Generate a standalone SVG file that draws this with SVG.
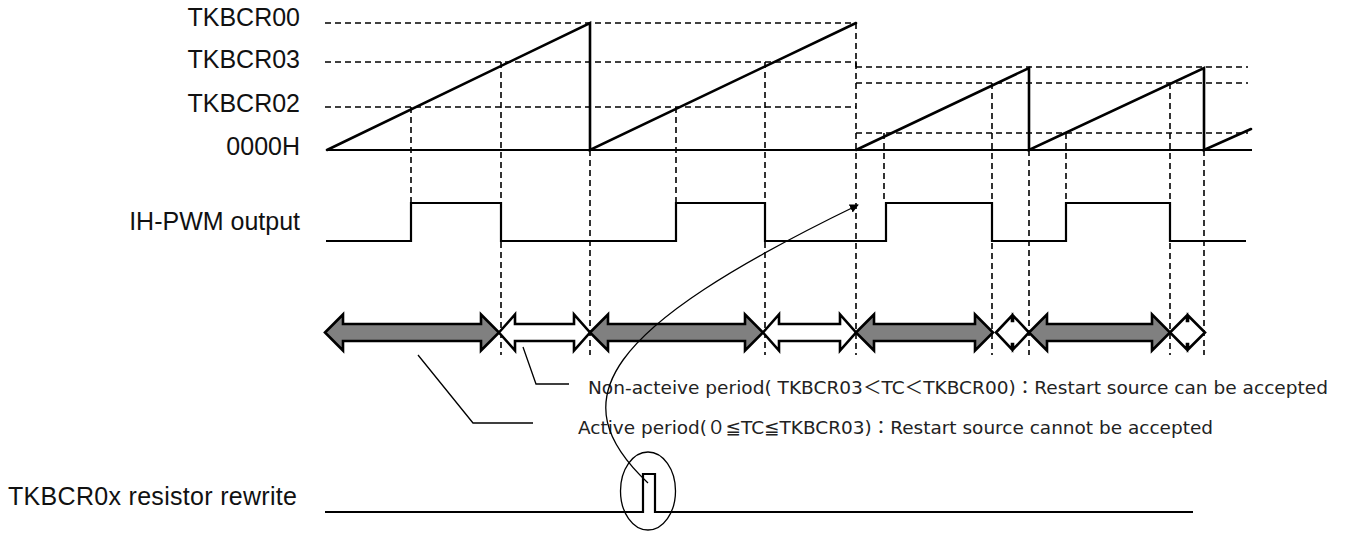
<svg xmlns="http://www.w3.org/2000/svg" width="1349" height="535" viewBox="0 0 1349 535">
<style>
.lbl{font-family:"Liberation Sans",Arial,sans-serif;font-size:25px;fill:#111}
.note{font-family:"DejaVu Sans","Noto Sans CJK JP",sans-serif;font-size:18px;fill:#222}
.dash{stroke:#000;stroke-width:1.6;stroke-dasharray:6 4;fill:none}
.ramp{stroke:#000;stroke-width:2.6;fill:none;stroke-linecap:round}
.sig{stroke:#000;stroke-width:2.2;fill:none}
.thin{stroke:#000;stroke-width:1.3;fill:none}
.garr{fill:#808080;stroke:#000;stroke-width:2.6;stroke-linejoin:miter}
.warr{fill:#fff;stroke:#000;stroke-width:2.6;stroke-linejoin:miter}
</style>
<defs>
<marker id="ah" viewBox="0 0 10 10" refX="9" refY="5" markerWidth="9" markerHeight="9" markerUnits="userSpaceOnUse" orient="auto"><path d="M0,0 L10,5 L0,10 Z" fill="#000"/></marker>
</defs>
<rect width="1349" height="535" fill="#fff"/>

<g id="labels">
<text class="lbl" x="300" y="26" text-anchor="end">TKBCR00</text>
<text class="lbl" x="300" y="68" text-anchor="end">TKBCR03</text>
<text class="lbl" x="300" y="111.5" text-anchor="end">TKBCR02</text>
<text class="lbl" x="300" y="155" text-anchor="end">0000H</text>
<text class="lbl" x="300" y="230" text-anchor="end">IH-PWM output</text>
<text class="lbl" x="8" y="505" textLength="289" lengthAdjust="spacing">TKBCR0x  resistor rewrite</text>
</g>

<g id="guides">
<path class="dash" d="M325,23 H856 M325,62 H856 V67 M325,107 H856 M856,67 H1248 M856,83 H1248 M856,133 H1248"/>
<path class="dash" d="M411,107 V203 M501,62 V355 M590,150 V355 M676,107 V203 M765,62 V355 M856,23 V355 M884,133 V203 M992,83 V355 M1029,150 V355 M1066,133 V203 M1170,83 V355 M1204,150 V355"/>
</g>

<g id="counter">
<line x1="327" y1="150" x2="1252" y2="150" stroke="#000" stroke-width="1.8"/>
<path class="ramp" d="M327,150 L590,23 V150 L856,23"/>
<path class="ramp" d="M856,150 L1029,68 V150 L1204,68 V150 L1251,129"/>
</g>

<g id="pwm">
<path class="sig" d="M326,241 H411 V203 H501 V241 H676 V203 H765 V241 H886 V203 H992 V241 H1066 V203 H1170 V241 H1246"/>
</g>

<g id="periods">
<polygon class="garr" points="325,332.5 343,314.5 343,324 481,324 481,314.5 499,332.5 481,350.5 481,341 343,341 343,350.5"/>
<polygon class="warr" points="499,332.5 515,314.5 515,324 574,324 574,314.5 590,332.5 574,350.5 574,341 515,341 515,350.5"/>
<polygon class="garr" points="590,332.5 608,314.5 608,324 745,324 745,314.5 763,332.5 745,350.5 745,341 608,341 608,350.5"/>
<polygon class="warr" points="763,332.5 779,314.5 779,324 840,324 840,314.5 856,332.5 840,350.5 840,341 779,341 779,350.5"/>
<polygon class="garr" points="856,332.5 874,314.5 874,324 975,324 975,314.5 993,332.5 975,350.5 975,341 874,341 874,350.5"/>
<polygon class="warr" points="996,332.5 1012,315.5 1012,321 1013,321 1013,315.5 1029,332.5 1013,349.5 1013,344 1012,344 1012,349.5"/>
<polygon class="garr" points="1029,332.5 1047,314.5 1047,324 1152,324 1152,314.5 1170,332.5 1152,350.5 1152,341 1047,341 1047,350.5"/>
<polygon class="warr" points="1170,332.5 1187,315.5 1187,321 1188,321 1188,315.5 1205,332.5 1188,349.5 1188,344 1187,344 1187,349.5"/>
</g>

<g id="notes">
<path class="thin" d="M523,347 L536,384 H569"/>
<path class="thin" d="M418,355 L473,423 H533"/>
<text class="note" x="588" y="394" textLength="740" lengthAdjust="spacingAndGlyphs">Non-acteive period( TKBCR03＜TC＜TKBCR00)：Restart source can be accepted</text>
<text class="note" x="578" y="434" textLength="635" lengthAdjust="spacingAndGlyphs">Active period(０≦TC≦TKBCR03)：Restart source cannot be accepted</text>
</g>

<g id="rewrite">
<path class="sig" d="M325,512 H643 V474 H655 V512 H1193"/>
<ellipse class="thin" cx="648" cy="491" rx="27.5" ry="39"/>
</g>

<g id="connectors">
<path class="thin" d="M648,483 C560,400 600,330 858,205" marker-end="url(#ah)"/>
</g>
</svg>
